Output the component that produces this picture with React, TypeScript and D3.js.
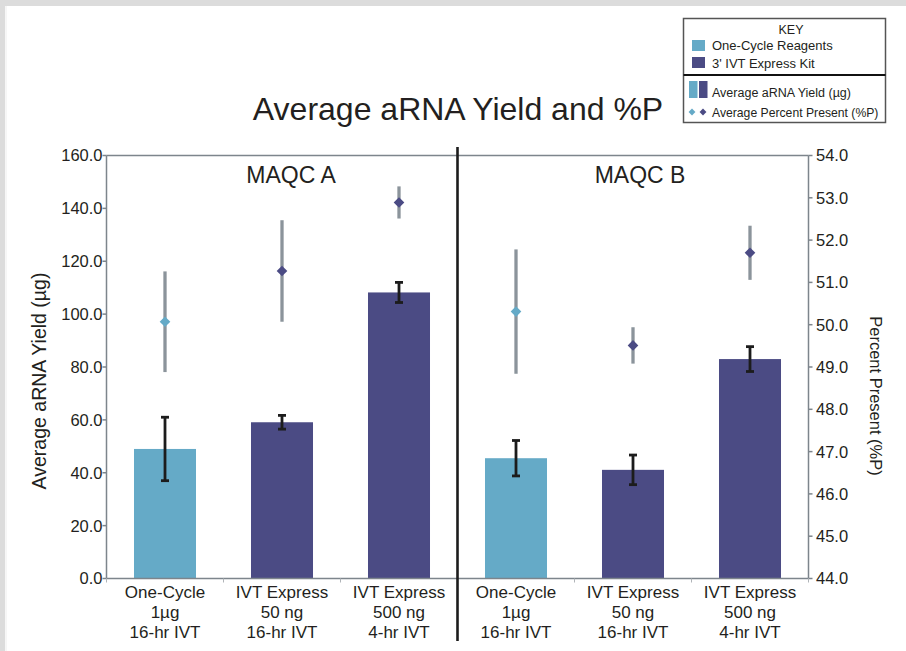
import React from "react";
import * as d3 from "d3";

const categories = ["A1", "A2", "A3", "B1", "B2", "B3"];
const labelLine1 = ["One-Cycle", "IVT Express", "IVT Express", "One-Cycle", "IVT Express", "IVT Express"];
const labelLine2 = ["1µg", "50 ng", "500 ng", "1µg", "50 ng", "500 ng"];
const labelLine3 = ["16-hr IVT", "16-hr IVT", "4-hr IVT", "16-hr IVT", "16-hr IVT", "4-hr IVT"];
const kit = ["one", "ivt", "ivt", "one", "ivt", "ivt"];
const yieldValues = [49.0, 59.1, 108.2, 45.5, 41.1, 83.0];
const yieldErr = [12.0, 2.6, 3.8, 6.7, 5.6, 4.7];
const percentPresent = [50.07, 51.27, 52.89, 50.31, 49.51, 51.7];
const percentErr = [1.19, 1.2, 0.38, 1.47, 0.43, 0.64];
const groups = ["MAQC A", "MAQC B"];
const leftTicks = [0, 20, 40, 60, 80, 100, 120, 140, 160];
const rightTicks = [44, 45, 46, 47, 48, 49, 50, 51, 52, 53, 54];

const C_ONE = "#65aac7";
const C_IVT = "#4b4b84";
const C_AXIS = "#7d858c";
const C_GRAYERR = "#8b949b";
const C_TEXT = "#231f20";
const FONT = "'Liberation Sans', Arial, Helvetica, sans-serif";

export default function App() {
  const W = 906, H = 651;
  const x0 = 106.5, x1 = 808.5, yTop = 155.5, yBot = 578.5;
  const x = d3.scaleBand().domain(categories).range([x0, x1]).paddingInner(0.47).paddingOuter(0.235);
  const xStep = d3.scaleBand().domain(categories).range([x0, x1]).padding(0);
  const yL = d3.scaleLinear().domain([0, 160]).range([yBot, yTop]);
  const yR = d3.scaleLinear().domain([44, 54]).range([yBot, yTop]);
  const color = (k: string) => (k === "one" ? C_ONE : C_IVT);
  const dividerX = xStep("B1")!;
  const groupCenters = [
    (xStep("A1")! + xStep("A3")! + xStep.bandwidth()) / 2 + 9,
    (xStep("B1")! + xStep("B3")! + xStep.bandwidth()) / 2 + 7,
  ];
  const diamond = d3.symbol().type(d3.symbolDiamond2).size(72)()!;
  const smallDiamond = d3.symbol().type(d3.symbolDiamond2).size(30)()!;

  return (
    <svg width={W} height={H} style={{ position: "absolute", left: 0, top: 0, background: "#fff" }} fontFamily={FONT}>
      <rect x={0} y={0} width={W} height={H} fill="#fff" />
      <rect x={0} y={0} width={W} height={6} fill="#dcdcdc" />
      <rect x={0} y={0} width={5} height={H} fill="#dcdcdc" />
      <line x1={6} x2={6} y1={6} y2={H} stroke="#eeeeee" strokeWidth={1} />

      {/* title */}
      <text x={458} y={120} textAnchor="middle" fontSize={32} fill={C_TEXT}>
        Average aRNA Yield and %P
      </text>

      {/* bars */}
      {categories.map((c, i) => (
        <rect key={c} x={x(c)} y={yL(yieldValues[i])} width={x.bandwidth()} height={yBot - yL(yieldValues[i])} fill={color(kit[i])} />
      ))}

      {/* bar error bars */}
      {categories.map((c, i) => {
        const cx = x(c)! + x.bandwidth() / 2;
        const t = yL(yieldValues[i] + yieldErr[i]);
        const b = yL(yieldValues[i] - yieldErr[i]);
        return (
          <g key={c} stroke="#1c1c1c" strokeWidth={2.8}>
            <line x1={cx} x2={cx} y1={t} y2={b} />
            <line x1={cx - 4} x2={cx + 4} y1={t} y2={t} />
            <line x1={cx - 4} x2={cx + 4} y1={b} y2={b} />
          </g>
        );
      })}

      {/* percent present error bars and diamonds */}
      {categories.map((c, i) => {
        const cx = x(c)! + x.bandwidth() / 2;
        return (
          <g key={c}>
            <line x1={cx} x2={cx} y1={yR(percentPresent[i] + percentErr[i])} y2={yR(percentPresent[i] - percentErr[i])} stroke={C_GRAYERR} strokeWidth={3.3} />
            <path d={diamond} transform={`translate(${cx},${yR(percentPresent[i])})`} fill={color(kit[i])} />
          </g>
        );
      })}

      {/* frame */}
      <g stroke={C_AXIS} strokeWidth={1.5} fill="none">
        <line x1={x0} x2={x1} y1={yTop} y2={yTop} />
        <line x1={x0} x2={x1} y1={yBot} y2={yBot} />
        <line x1={x0} x2={x0} y1={yTop} y2={yBot} />
        <line x1={x1} x2={x1} y1={yTop} y2={yBot} />
        {leftTicks.map((t) => (
          <line key={t} x1={x0 - 4} x2={x0} y1={yL(t)} y2={yL(t)} />
        ))}
        {rightTicks.map((t) => (
          <line key={t} x1={x1} x2={x1 + 4} y1={yR(t)} y2={yR(t)} />
        ))}
      </g>
      <g stroke="#b0b4b8" strokeWidth={1}>
        {categories.map((c) => (
          <line key={c} x1={xStep(c)!} x2={xStep(c)!} y1={yBot} y2={yBot + 4} />
        ))}
        <line x1={x1} x2={x1} y1={yBot} y2={yBot + 4} />
      </g>

      {/* tick labels */}
      {leftTicks.map((t) => (
        <text key={t} x={102.5} y={yL(t)} dy="0.36em" textAnchor="end" fontSize={16.5} fill={C_TEXT}>
          {d3.format(".1f")(t)}
        </text>
      ))}
      {rightTicks.map((t) => (
        <text key={t} x={816} y={yR(t)} dy="0.36em" textAnchor="start" fontSize={16.5} fill={C_TEXT}>
          {d3.format(".1f")(t)}
        </text>
      ))}

      {/* axis titles */}
      <text transform="translate(46,381) rotate(-90)" textAnchor="middle" fontSize={19.5} fill={C_TEXT}>
        Average aRNA Yield (µg)
      </text>
      <text transform="translate(870,396) rotate(90)" textAnchor="middle" fontSize={16.5} fill={C_TEXT}>
        Percent Present (%P)
      </text>

      {/* category labels */}
      {categories.map((c, i) => {
        const cx = xStep(c)! + xStep.bandwidth() / 2;
        return (
          <text key={c} x={cx} textAnchor="middle" fontSize={17} fill={C_TEXT}>
            <tspan x={cx} y={598}>{labelLine1[i]}</tspan>
            <tspan x={cx} y={618}>{labelLine2[i]}</tspan>
            <tspan x={cx} y={638}>{labelLine3[i]}</tspan>
          </text>
        );
      })}

      {/* group labels */}
      {groups.map((g, i) => (
        <text key={g} x={groupCenters[i]} y={183} textAnchor="middle" fontSize={23} fill={C_TEXT}>
          {g}
        </text>
      ))}

      {/* divider */}
      <line x1={dividerX} x2={dividerX} y1={147} y2={641} stroke="#1c1c1c" strokeWidth={2.6} />

      {/* legend */}
      <g fontFamily={FONT}>
        <rect x={683.5} y={18.5} width={202} height={104} fill="#fff" stroke="#555" strokeWidth={1.5} />
        <line x1={683.5} x2={885.5} y1={75} y2={75} stroke="#111" strokeWidth={2} />
        <text x={791} y={34} textAnchor="middle" fontSize={12.5} fill={C_TEXT}>KEY</text>
        <rect x={692} y={40} width={13} height={11} fill={C_ONE} />
        <text x={712} y={50} fontSize={13} fill={C_TEXT}>One-Cycle Reagents</text>
        <rect x={692} y={57} width={13} height={11} fill={C_IVT} />
        <text x={712} y={67.5} fontSize={13} fill={C_TEXT}>3' IVT Express Kit</text>
        <rect x={689} y={81} width={8.5} height={17} fill={C_ONE} />
        <rect x={699} y={81} width={8.5} height={17} fill={C_IVT} />
        <text x={712} y={97} fontSize={12.5} fill={C_TEXT}>Average aRNA Yield (µg)</text>
        <path d={smallDiamond} transform="translate(692,112)" fill={C_ONE} />
        <path d={smallDiamond} transform="translate(703,112)" fill={C_IVT} />
        <text x={712} y={116.5} fontSize={12.2} fill={C_TEXT}>Average Percent Present (%P)</text>
      </g>
    </svg>
  );
}
